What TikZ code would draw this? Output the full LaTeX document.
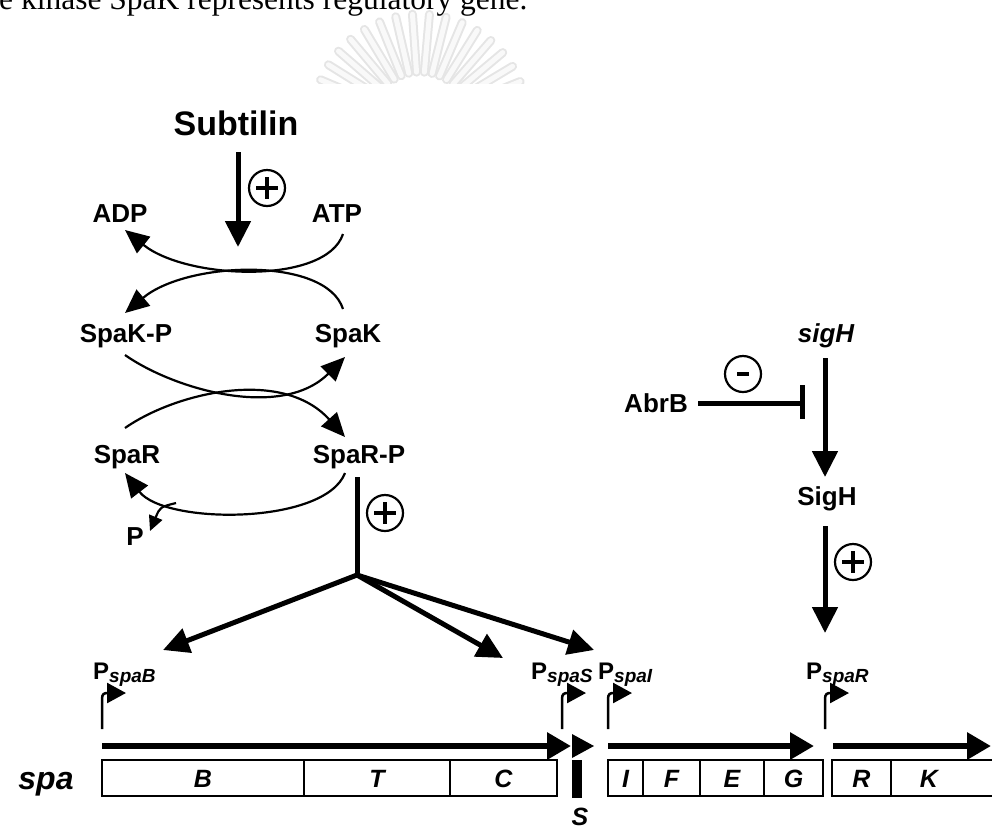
\documentclass[tikz,border=0pt]{standalone}
\usepackage{fontspec}
\setmainfont{Liberation Sans}
\newfontfamily\serfont{Liberation Serif}
\usetikzlibrary{arrows.meta}
\begin{document}
\begin{tikzpicture}[x=1pt,y=-1pt,
  lab/.style={font=\fontsize{26}{28}\selectfont\bfseries, inner sep=0pt, anchor=base},
  labi/.style={font=\fontsize{26}{28}\selectfont\bfseries\itshape, inner sep=0pt, anchor=base},
  big/.style={font=\fontsize{34}{36}\selectfont\bfseries, inner sep=0pt, anchor=base},
  arcl/.style={line width=2.2pt, -{Triangle[length=24pt,width=21pt]}},
  fat/.style={line width=5pt, -{Triangle[length=26pt,width=25pt]}},
  fatline/.style={line width=5pt},
  prom/.style={line width=2.5pt, -{Triangle[length=19pt,width=20pt]}},
  tx/.style={line width=6pt, -{Triangle[length=24pt,width=26pt]}},
  gene/.style={draw, line width=2.5pt, minimum height=36pt, inner sep=0pt,
    text height=18pt, text depth=0pt, font=\fontsize{25}{26}\selectfont\bfseries\itshape},
  glyph/.style={font=\fontsize{25}{26}\selectfont\bfseries\itshape, inner sep=0pt, anchor=base},
  plabel/.style={anchor=base west, inner sep=0pt, font=\fontsize{24}{25}\selectfont\bfseries},
  pluscirc/.pic={\draw[line width=2.2pt] (0,0) circle[radius=18pt];
    \draw[line width=4.5pt] (-11,0)--(11,0) (0,-11)--(0,11);},
  minuscirc/.pic={\draw[line width=2.2pt] (0,0) circle[radius=18pt];
    \draw[line width=4.5pt] (-6,0)--(6,0);},
  promo/.pic={\draw[prom] (0,0) -- (0,-30) .. controls (0,-35) and (2,-36) .. (24,-36);}
]
\clip (0,0) rectangle (992,828);
\useasboundingbox (0,0) rectangle (992,828);

% watermark
\begin{scope}
\clip (280,0) rectangle (560,83);
\foreach \a in {22,31,...,160} {
  \draw[line width=9pt, gray!20, line cap=round] (420,122) ++(\a:50pt) -- ++(\a:58pt);
  \draw[line width=5pt, gray!5, line cap=round] (420,122) ++(\a:50pt) -- ++(\a:58pt);
}
\end{scope}

% caption fragment
\node[anchor=base west, inner sep=0pt, font=\serfont\fontsize{31.5}{32}\selectfont] (caption) at (-1,9) {e kinase SpaK represents regulatory gene.};

% labels
\node[big] (subtilin) at (236,135) {Subtilin};
\node[lab] (adp) at (120,222) {ADP};
\node[lab] (atp) at (337,222) {ATP};
\node[lab] (spakp) at (126,342) {SpaK-P};
\node[lab] (spak) at (348,342) {SpaK};
\node[lab] (spar) at (127,463) {SpaR};
\node[lab] (sparp) at (359,463) {SpaR-P};
\node[lab] (p) at (135,545) {P};
\node[labi] (sigh) at (826,342) {sigH};
\node[lab] (abrb) at (656,412) {AbrB};
\node[lab] (sigH2) at (827,505) {SigH};

% Subtilin arrow
\coordinate (s0) at (238,152);
\coordinate (s1) at (238,247);
\draw[fat] (s0) -- (s1);
\pic at (267,188) {pluscirc};

% phosphorylation cycles
\coordinate (atp0) at (343,234);
\coordinate (adp1) at (125,230);
\coordinate (spak0) at (343,309);
\coordinate (spakp1) at (125,313);
\draw[arcl] (atp0) .. controls (326,285) and (187,280) .. (adp1);
\draw[arcl] (spak0) .. controls (326,256) and (187,261) .. (spakp1);

\coordinate (spakp0) at (125,355);
\coordinate (spak1) at (345,357);
\coordinate (spar0) at (125,428);
\coordinate (sparp1) at (345,437);
\draw[arcl] (spakp0) .. controls (175,390) and (282,420) .. (spak1);
\draw[arcl] (spar0) .. controls (175,393) and (282,367) .. (sparp1);

\coordinate (sparp0) at (345,473);
\coordinate (spar1) at (125,473);
\draw[arcl] (sparp0) .. controls (325,525) and (165,525) .. (spar1);
\coordinate (br) at (176,503);
\coordinate (p1) at (150,531);
\draw[line width=2.2pt, -{Triangle[length=15pt,width=14pt]}] (br) .. controls (160,507) .. (p1);

% SpaR-P activation
\coordinate (st0) at (357,477);
\coordinate (jn) at (357,575);
\draw[fatline] (st0) -- (jn);
\pic at (385,513) {pluscirc};
\coordinate (tB) at (163,650);
\coordinate (tS) at (503,658);
\coordinate (tI) at (594,650);
\draw[fat] (jn) -- (tB);
\draw[fat] (jn) -- (tS);
\draw[fat] (jn) -- (tI);

% sigH branch
\coordinate (g0) at (825,358);
\coordinate (g1) at (825,477);
\draw[fat] (g0) -- (g1);
\coordinate (h0) at (825,526);
\coordinate (h1) at (825,633);
\draw[fat] (h0) -- (h1);
\pic at (853,562) {pluscirc};
\coordinate (a0) at (698,403);
\coordinate (a1) at (802,403);
\draw[fatline] (a0) -- (a1);
\draw[fatline] (802,385) -- (802,419);
\pic at (743,374) {minuscirc};

% promoters
\pic at (102,729) {promo};
\pic at (562,729) {promo};
\pic at (608,729) {promo};
\pic at (825,729) {promo};
\node[plabel] (pB) at (93,679) {P\raisebox{-3pt}{\fontsize{19}{19}\selectfont\itshape spaB}};
\node[plabel] (pS) at (531,679) {P\raisebox{-3pt}{\fontsize{19}{19}\selectfont\itshape spaS}};
\node[plabel] (pI) at (598,679) {P\raisebox{-3pt}{\fontsize{19}{19}\selectfont\itshape spaI}};
\node[plabel] (pR) at (806,679) {P\raisebox{-3pt}{\fontsize{19}{19}\selectfont\itshape spaR}};

% transcripts
\coordinate (x0) at (102,746); \coordinate (x1) at (571,746);
\draw[tx] (x0) -- (x1);
\fill (572,734) -- (594,746) -- (572,758) -- cycle;
\coordinate (y0) at (608,746); \coordinate (y1) at (814,746);
\draw[tx] (y0) -- (y1);
\coordinate (z0) at (833,746); \coordinate (z1) at (991,746);
\draw[tx] (z0) -- (z1);

% genes
\node[gene, minimum width=202pt] (gB) at (203,778) {B};
\node[gene, minimum width=146pt] (gT) at (377,778) {T};
\node[gene, minimum width=107pt] (gC) at (503.5,778) {C};
\node[fill, minimum width=10pt, minimum height=38pt, inner sep=0pt] (gS) at (577,779) {};
\node[gene, minimum width=35pt] (gI) at (625.5,778) {I};
\node[gene, minimum width=57pt] (gF) at (671.5,778) {F};
\node[gene, minimum width=64pt] (gE) at (732,778) {E};
\node[gene, minimum width=59pt] (gG) at (793.5,778) {G};
\node[gene, minimum width=59pt] (gR) at (861.5,778) {R};
\node[gene, minimum width=106pt] (gK) at (944,778) {K\hspace*{30pt}};
\node[glyph] (slab) at (580,825) {S};
\node[font=\fontsize{32}{32}\selectfont\bfseries\itshape, inner sep=0pt, anchor=base] (spa) at (46,789) {spa};
\end{tikzpicture}
\end{document}
